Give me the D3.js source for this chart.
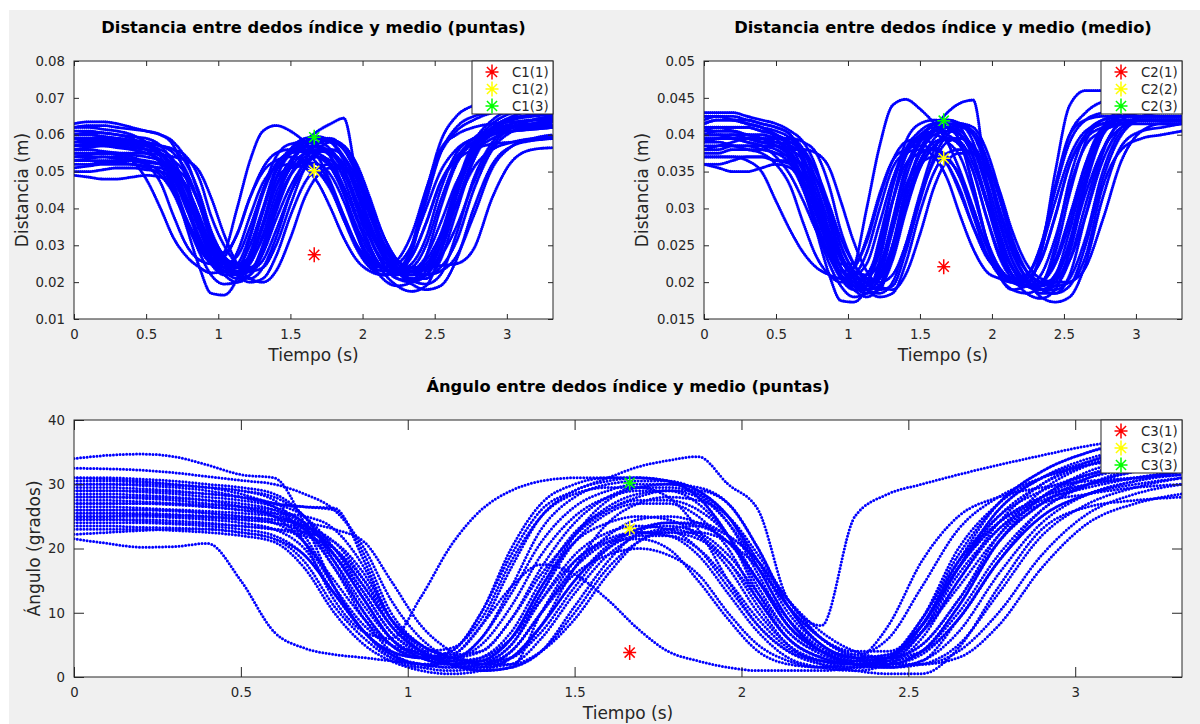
<!DOCTYPE html>
<html><head><meta charset="utf-8">
<script src="https://cdn.jsdelivr.net/npm/d3@7"></script>
<style>
html,body{margin:0;padding:0;background:#fff;}
svg{display:block;font-family:"DejaVu Sans",sans-serif;}
</style></head><body>
<svg id="chart" width="1200" height="724"></svg>
<script>
// ---- data ----
// sample times (s) at which every repetition below was read off the picture
const times = [0,0.1,0.2,0.3,0.4,0.5,0.6,0.69,0.78,0.87,0.95,1.04,1.13,1.22,1.31,1.4,1.5,1.6,1.69,1.78,1.87,1.96,2.05,2.14,2.24,2.34,2.44,2.54,2.65,2.77,2.9,3.04,3.18,3.32];
const xTicks = [0,0.5,1,1.5,2,2.5,3];
const yTicksTips = [0.01,0.02,0.03,0.04,0.05,0.06,0.07,0.08];
const yTicksMid = [0.015,0.02,0.025,0.03,0.035,0.04,0.045,0.05];
const yTicksAngle = [0,10,20,30,40];
const titles = ["Distancia entre dedos índice y medio (puntas)","Distancia entre dedos índice y medio (medio)","Ángulo entre dedos índice y medio (puntas)"];
const yLabels = ["Distancia (m)","Distancia (m)","Ángulo (grados)"];
const xLabel = "Tiempo (s)";

// distance between fingertips (m), one array per repetition
const distTips = [
[0.062,0.0625,0.0625,0.062,0.0615,0.061,0.06,0.057,0.048,0.035,0.027,0.024,0.025,0.033,0.045,0.054,0.0575,0.058,0.057,0.054,0.045,0.033,0.025,0.022,0.023,0.03,0.045,0.056,0.06,0.062,0.063,0.0635,0.064,0.064],
[0.049,0.0485,0.048,0.048,0.0485,0.049,0.0485,0.045,0.037,0.029,0.025,0.023,0.024,0.03,0.04,0.048,0.051,0.0515,0.05,0.046,0.038,0.03,0.025,0.023,0.0235,0.027,0.036,0.047,0.053,0.056,0.0575,0.058,0.0585,0.059],
[0.055,0.055,0.055,0.0545,0.053,0.048,0.04,0.032,0.027,0.024,0.0225,0.023,0.028,0.038,0.047,0.051,0.052,0.051,0.047,0.04,0.032,0.026,0.023,0.022,0.023,0.027,0.036,0.047,0.054,0.058,0.06,0.061,0.0615,0.062],
[0.057,0.057,0.057,0.0565,0.056,0.055,0.053,0.046,0.035,0.024,0.017,0.0165,0.021,0.032,0.044,0.052,0.055,0.056,0.055,0.052,0.044,0.034,0.026,0.021,0.019,0.02,0.027,0.04,0.052,0.058,0.061,0.062,0.0625,0.063],
[0.06,0.06,0.0595,0.059,0.0585,0.058,0.057,0.056,0.052,0.044,0.034,0.027,0.024,0.026,0.032,0.042,0.052,0.058,0.061,0.063,0.0645,0.048,0.033,0.025,0.021,0.0205,0.023,0.03,0.045,0.057,0.063,0.066,0.067,0.0675],
[0.056,0.056,0.0555,0.055,0.054,0.052,0.047,0.038,0.03,0.026,0.025,0.028,0.04,0.053,0.061,0.0625,0.061,0.058,0.054,0.047,0.038,0.03,0.025,0.024,0.026,0.033,0.045,0.055,0.061,0.064,0.066,0.067,0.068,0.0685],
[0.053,0.0535,0.054,0.054,0.0535,0.053,0.052,0.05,0.045,0.037,0.03,0.026,0.024,0.024,0.028,0.037,0.046,0.052,0.054,0.053,0.049,0.042,0.034,0.027,0.023,0.022,0.024,0.03,0.041,0.051,0.056,0.058,0.059,0.0595],
[0.058,0.0585,0.0585,0.058,0.0575,0.057,0.056,0.053,0.045,0.036,0.029,0.025,0.023,0.026,0.035,0.046,0.053,0.0565,0.057,0.055,0.05,0.041,0.032,0.026,0.023,0.024,0.03,0.042,0.053,0.059,0.0615,0.0625,0.063,0.0635],
[0.051,0.0515,0.052,0.052,0.052,0.0515,0.051,0.049,0.043,0.035,0.028,0.024,0.022,0.023,0.03,0.041,0.049,0.053,0.054,0.052,0.046,0.037,0.029,0.024,0.022,0.023,0.027,0.036,0.047,0.055,0.059,0.061,0.062,0.0625],
[0.063,0.0635,0.0635,0.063,0.062,0.061,0.06,0.058,0.053,0.043,0.033,0.027,0.025,0.027,0.036,0.048,0.056,0.059,0.0595,0.058,0.053,0.044,0.035,0.028,0.024,0.023,0.025,0.032,0.045,0.056,0.062,0.065,0.067,0.069],
[0.054,0.054,0.054,0.0535,0.053,0.052,0.05,0.045,0.037,0.03,0.026,0.025,0.027,0.035,0.045,0.052,0.055,0.0555,0.054,0.051,0.044,0.035,0.028,0.024,0.0225,0.023,0.026,0.033,0.046,0.056,0.061,0.063,0.064,0.0645],
[0.059,0.059,0.059,0.0585,0.058,0.0575,0.057,0.056,0.054,0.048,0.038,0.03,0.025,0.023,0.024,0.03,0.041,0.051,0.056,0.058,0.056,0.05,0.04,0.031,0.025,0.022,0.022,0.024,0.031,0.045,0.056,0.061,0.063,0.064],
[0.052,0.052,0.0525,0.0525,0.052,0.051,0.049,0.044,0.036,0.029,0.026,0.027,0.033,0.043,0.05,0.053,0.054,0.053,0.05,0.045,0.037,0.03,0.026,0.024,0.025,0.03,0.04,0.05,0.056,0.059,0.0605,0.061,0.0615,0.062],
[0.061,0.061,0.0605,0.06,0.0595,0.059,0.057,0.052,0.042,0.032,0.026,0.023,0.0225,0.025,0.033,0.044,0.052,0.057,0.059,0.059,0.056,0.049,0.039,0.03,0.024,0.021,0.021,0.026,0.039,0.053,0.061,0.065,0.067,0.068],
[0.056,0.0565,0.057,0.057,0.0565,0.056,0.055,0.053,0.049,0.041,0.033,0.027,0.024,0.0235,0.026,0.034,0.044,0.051,0.055,0.056,0.054,0.048,0.039,0.031,0.026,0.023,0.022,0.023,0.027,0.038,0.051,0.057,0.059,0.06],
[0.053,0.053,0.053,0.053,0.053,0.0525,0.052,0.051,0.048,0.041,0.032,0.026,0.022,0.02,0.021,0.027,0.038,0.047,0.051,0.052,0.051,0.046,0.038,0.029,0.023,0.0195,0.018,0.019,0.026,0.04,0.052,0.057,0.0585,0.0595],
[0.057,0.0575,0.0575,0.057,0.056,0.055,0.053,0.048,0.04,0.032,0.026,0.022,0.02,0.022,0.03,0.042,0.051,0.055,0.056,0.055,0.05,0.04,0.03,0.023,0.019,0.0175,0.019,0.028,0.043,0.055,0.06,0.062,0.063,0.064],
[0.06,0.0605,0.0605,0.06,0.059,0.057,0.054,0.047,0.037,0.028,0.022,0.0195,0.02,0.027,0.04,0.051,0.056,0.058,0.058,0.056,0.051,0.042,0.032,0.025,0.021,0.02,0.022,0.03,0.044,0.056,0.062,0.0645,0.0655,0.066],
[0.055,0.055,0.055,0.055,0.055,0.055,0.0545,0.054,0.053,0.05,0.043,0.033,0.025,0.021,0.02,0.023,0.032,0.043,0.049,0.051,0.051,0.048,0.042,0.033,0.026,0.024,0.024,0.0245,0.025,0.029,0.043,0.053,0.056,0.0565],
[0.058,0.058,0.058,0.0575,0.057,0.056,0.055,0.051,0.043,0.034,0.027,0.023,0.021,0.022,0.028,0.039,0.049,0.055,0.058,0.0585,0.057,0.052,0.043,0.033,0.026,0.023,0.0235,0.027,0.035,0.047,0.057,0.062,0.064,0.065],
[0.05,0.05,0.0505,0.051,0.051,0.0505,0.05,0.048,0.043,0.036,0.029,0.025,0.024,0.027,0.036,0.046,0.051,0.0525,0.052,0.049,0.042,0.033,0.027,0.024,0.023,0.025,0.032,0.045,0.055,0.059,0.061,0.062,0.062,0.0625],
[0.062,0.062,0.0615,0.061,0.06,0.058,0.055,0.049,0.04,0.031,0.025,0.022,0.022,0.026,0.036,0.048,0.055,0.058,0.059,0.058,0.054,0.046,0.036,0.028,0.023,0.022,0.024,0.032,0.046,0.058,0.064,0.067,0.069,0.07],
[0.054,0.0545,0.055,0.055,0.0545,0.054,0.053,0.051,0.046,0.038,0.03,0.025,0.0225,0.023,0.029,0.04,0.049,0.054,0.0555,0.055,0.052,0.045,0.036,0.028,0.023,0.021,0.022,0.028,0.041,0.054,0.061,0.064,0.065,0.0655],
[0.059,0.059,0.059,0.059,0.0585,0.058,0.057,0.055,0.05,0.041,0.031,0.025,0.022,0.021,0.024,0.032,0.044,0.053,0.0575,0.0585,0.057,0.051,0.041,0.031,0.024,0.0205,0.0195,0.022,0.033,0.048,0.058,0.062,0.064,0.065],
[0.057,0.0575,0.058,0.058,0.0575,0.057,0.055,0.05,0.041,0.032,0.026,0.023,0.023,0.028,0.039,0.05,0.055,0.057,0.0565,0.054,0.048,0.038,0.029,0.024,0.022,0.028,0.044,0.058,0.065,0.068,0.07,0.071,0.072,0.0725],
[0.06,0.06,0.0595,0.059,0.058,0.056,0.052,0.045,0.037,0.031,0.028,0.028,0.033,0.043,0.051,0.055,0.056,0.055,0.052,0.046,0.037,0.029,0.024,0.022,0.023,0.029,0.042,0.055,0.062,0.065,0.066,0.0665,0.067,0.0675]
];

// distance between middle phalanges (m)
const distMid = [
[0.042,0.0425,0.0425,0.042,0.0415,0.041,0.04,0.037,0.031,0.025,0.021,0.0195,0.02,0.025,0.033,0.039,0.0415,0.042,0.0415,0.039,0.033,0.026,0.021,0.019,0.0195,0.024,0.033,0.04,0.042,0.0425,0.0425,0.0425,0.0425,0.0425],
[0.036,0.0355,0.035,0.035,0.0355,0.036,0.0355,0.033,0.028,0.0235,0.021,0.02,0.021,0.025,0.031,0.036,0.0375,0.038,0.037,0.034,0.029,0.024,0.021,0.02,0.0205,0.023,0.029,0.036,0.0395,0.041,0.0415,0.042,0.042,0.042],
[0.037,0.037,0.037,0.0365,0.035,0.031,0.027,0.024,0.022,0.021,0.0205,0.021,0.024,0.03,0.0355,0.0375,0.038,0.037,0.034,0.029,0.0245,0.0215,0.0205,0.02,0.0205,0.023,0.029,0.036,0.04,0.0415,0.042,0.042,0.042,0.042],
[0.04,0.04,0.04,0.0395,0.039,0.0385,0.037,0.033,0.027,0.021,0.0175,0.0173,0.0195,0.026,0.033,0.038,0.0405,0.0415,0.041,0.039,0.033,0.026,0.021,0.019,0.0185,0.0195,0.025,0.034,0.04,0.042,0.0425,0.0425,0.0425,0.0425],
[0.041,0.041,0.0405,0.04,0.04,0.0395,0.039,0.038,0.035,0.03,0.025,0.0215,0.02,0.021,0.025,0.032,0.038,0.041,0.043,0.0443,0.0447,0.034,0.025,0.021,0.0195,0.019,0.02,0.024,0.033,0.04,0.043,0.0445,0.045,0.045],
[0.039,0.039,0.0385,0.038,0.0375,0.036,0.033,0.028,0.0235,0.021,0.02,0.022,0.03,0.0385,0.044,0.0448,0.0435,0.0415,0.039,0.035,0.03,0.025,0.022,0.0205,0.021,0.025,0.033,0.04,0.043,0.0445,0.045,0.0455,0.0455,0.0455],
[0.038,0.0385,0.039,0.0395,0.0395,0.0395,0.0395,0.038,0.033,0.027,0.023,0.021,0.02,0.0205,0.024,0.03,0.0355,0.0385,0.0395,0.039,0.036,0.031,0.026,0.022,0.02,0.0195,0.021,0.025,0.032,0.038,0.041,0.042,0.042,0.042],
[0.0415,0.042,0.042,0.0415,0.041,0.0405,0.0395,0.037,0.032,0.0265,0.022,0.02,0.0195,0.0215,0.028,0.035,0.0395,0.0415,0.042,0.041,0.037,0.031,0.025,0.021,0.0195,0.02,0.024,0.032,0.039,0.042,0.0425,0.0425,0.0425,0.0425],
[0.0375,0.0375,0.038,0.038,0.038,0.0375,0.037,0.0355,0.031,0.026,0.022,0.0195,0.0185,0.019,0.024,0.031,0.0365,0.039,0.0395,0.0385,0.035,0.029,0.0235,0.0205,0.0195,0.02,0.023,0.029,0.036,0.0405,0.042,0.042,0.042,0.042],
[0.043,0.043,0.043,0.0425,0.042,0.0415,0.0405,0.039,0.0355,0.029,0.0235,0.0205,0.0195,0.021,0.027,0.034,0.039,0.0415,0.042,0.0415,0.039,0.033,0.0265,0.022,0.02,0.0195,0.021,0.027,0.035,0.041,0.0435,0.0445,0.0455,0.046],
[0.0395,0.0395,0.0395,0.039,0.0385,0.038,0.0365,0.033,0.028,0.024,0.0215,0.021,0.0225,0.028,0.034,0.038,0.0395,0.04,0.039,0.037,0.032,0.026,0.022,0.02,0.0195,0.02,0.0225,0.028,0.036,0.041,0.042,0.042,0.042,0.042],
[0.0405,0.0405,0.0405,0.04,0.04,0.0395,0.0395,0.039,0.0375,0.033,0.027,0.0225,0.02,0.019,0.0195,0.024,0.031,0.037,0.04,0.041,0.04,0.0365,0.03,0.024,0.0205,0.019,0.019,0.0205,0.026,0.035,0.0405,0.042,0.042,0.042],
[0.038,0.038,0.0385,0.0385,0.038,0.0375,0.036,0.0325,0.0275,0.0235,0.0215,0.022,0.026,0.032,0.0365,0.038,0.0385,0.038,0.036,0.0325,0.0275,0.0235,0.0215,0.0205,0.021,0.0245,0.031,0.037,0.0405,0.0415,0.0415,0.0415,0.0415,0.0415],
[0.0425,0.0425,0.042,0.042,0.0415,0.041,0.04,0.036,0.03,0.0245,0.021,0.0195,0.019,0.0205,0.025,0.032,0.0375,0.0405,0.0415,0.0415,0.04,0.0355,0.029,0.023,0.02,0.0185,0.0185,0.021,0.029,0.0375,0.042,0.043,0.043,0.043],
[0.039,0.0395,0.0395,0.0395,0.039,0.039,0.0385,0.0375,0.035,0.0305,0.026,0.0225,0.0205,0.02,0.021,0.025,0.0315,0.0365,0.039,0.0395,0.0385,0.0355,0.03,0.025,0.0215,0.02,0.0195,0.02,0.022,0.0285,0.0365,0.0405,0.0415,0.0415],
[0.037,0.037,0.037,0.037,0.037,0.0365,0.0365,0.036,0.034,0.03,0.025,0.0215,0.019,0.018,0.0185,0.0225,0.0295,0.035,0.0375,0.038,0.0375,0.035,0.03,0.0245,0.0205,0.018,0.0173,0.018,0.0225,0.0315,0.0385,0.0405,0.041,0.0415],
[0.04,0.0405,0.0405,0.04,0.0395,0.0385,0.037,0.034,0.029,0.0245,0.021,0.019,0.018,0.0195,0.025,0.0325,0.0375,0.04,0.0405,0.04,0.037,0.031,0.0255,0.021,0.0185,0.0178,0.019,0.0245,0.0335,0.04,0.042,0.042,0.042,0.042],
[0.0415,0.042,0.042,0.0415,0.041,0.04,0.038,0.0335,0.0275,0.0225,0.0195,0.018,0.0185,0.023,0.031,0.0375,0.04,0.041,0.041,0.04,0.037,0.0315,0.026,0.022,0.02,0.0195,0.0205,0.0255,0.034,0.0405,0.0425,0.043,0.043,0.043],
[0.0385,0.0385,0.0385,0.0385,0.0385,0.0385,0.038,0.038,0.0375,0.0355,0.031,0.0255,0.0215,0.0195,0.019,0.021,0.0265,0.033,0.0365,0.0375,0.0375,0.036,0.0325,0.027,0.0225,0.0205,0.02,0.02,0.0235,0.033,0.038,0.0395,0.04,0.0405],
[0.04,0.04,0.04,0.0395,0.039,0.0385,0.0375,0.035,0.0305,0.0255,0.022,0.02,0.019,0.0195,0.0235,0.03,0.036,0.0395,0.041,0.0412,0.0405,0.037,0.0315,0.0255,0.0215,0.02,0.0205,0.023,0.029,0.0365,0.041,0.0425,0.043,0.043],
[0.036,0.036,0.0365,0.037,0.037,0.0365,0.036,0.0345,0.031,0.027,0.0235,0.0215,0.021,0.0225,0.0275,0.033,0.036,0.037,0.0365,0.0345,0.03,0.025,0.0215,0.02,0.0195,0.021,0.026,0.033,0.0385,0.0405,0.0415,0.042,0.042,0.042],
[0.0425,0.0425,0.042,0.0415,0.041,0.0395,0.037,0.033,0.028,0.0235,0.0205,0.019,0.019,0.022,0.0285,0.0355,0.039,0.0405,0.041,0.0405,0.038,0.033,0.027,0.022,0.0195,0.019,0.0205,0.0255,0.034,0.0405,0.043,0.044,0.0445,0.045],
[0.039,0.0395,0.04,0.04,0.0395,0.039,0.038,0.0365,0.033,0.028,0.0235,0.0205,0.019,0.0195,0.023,0.0295,0.0355,0.0385,0.0395,0.0395,0.038,0.034,0.028,0.023,0.02,0.019,0.0195,0.023,0.0305,0.038,0.0415,0.042,0.042,0.042],
[0.041,0.041,0.041,0.041,0.0405,0.04,0.039,0.0375,0.034,0.029,0.024,0.0205,0.019,0.0185,0.02,0.025,0.032,0.038,0.0405,0.0415,0.041,0.038,0.0325,0.026,0.0215,0.019,0.0185,0.0195,0.025,0.034,0.04,0.042,0.042,0.042],
[0.0405,0.041,0.041,0.041,0.0405,0.04,0.0385,0.035,0.0295,0.025,0.022,0.0205,0.0205,0.024,0.031,0.037,0.0395,0.0405,0.04,0.0385,0.035,0.029,0.024,0.021,0.02,0.024,0.035,0.044,0.046,0.046,0.0455,0.0455,0.0455,0.0455],
[0.04,0.04,0.0395,0.039,0.0385,0.037,0.0345,0.031,0.027,0.024,0.0225,0.0225,0.0255,0.0315,0.0365,0.039,0.0395,0.0385,0.036,0.032,0.0275,0.024,0.0215,0.0205,0.021,0.025,0.0325,0.039,0.042,0.043,0.0435,0.0435,0.0435,0.0435]
];

// angle between fingertips (degrees)
const angleTips = [
[34,34.5,34.7,34.3,33,31.5,31,24,14,7,4,3,4,10,20,27,30,31,31,30.5,28,22,14,7,4,3.5,6,14,23,28,31,33,34,34.5],
[32.5,32.4,32.2,31.8,31.2,30.6,30,28.5,26,20,12,6,3,2.5,5,13,22,27.5,29.5,30,29.5,27,20,11,5,3,2.5,4,11,21,27,30,32,33],
[21.5,20.8,20.2,20.3,20.8,15,7,4.5,3.5,3,2.5,2,2,3,6,12,18,21,21.5,20,15,9,4,2,1.5,2.5,8,18,25,28,29.5,30.5,31,31.5],
[22.2,22.5,22.8,23,23,22.5,21.5,18,11,6,3,2,1.5,2,4,10,17,21,22.5,22,19,13,7,3,1.5,1,2,7,16,23,27,28.5,29.5,30],
[31,30.8,30.5,30,29.5,28.5,27,26.5,26,19,10,5,3,2.5,3,8,17,24,27,28,27.5,25,19,12,6,3.5,3,5,12,21,27,31,33,34],
[30,30,29.8,29.5,29,28,26.5,22,14,7,4,3,3.5,8,17,25,29,30.5,31,30.5,28,22,13,6,3,2,2.5,7,17,26,31,34,35.5,36.5],
[28.5,28.5,28.3,28,27.5,26.5,25,21,14,8,5,4,4.5,9,18,25,28.5,29.5,29.5,28,23,15,8,4,2.5,2,3,9,19,27,32,35,36.5,37.5],
[27.5,27.5,27.3,27,26.5,26,25,23,18,11,6,3.5,2.5,3,6,13,21,25.5,27,27,25,20,12,6,3,2,2,4,10,19,26,30,32.5,34],
[26.5,26.5,26.3,26,25.5,25,24,21,15,9,5,3,2,2.5,6,14,21,24,25,24.5,22,17,10,5,2.5,1.5,2,6,15,23,28,31,32.5,33.5],
[26,26,26,25.8,25.5,25,24.5,23.5,21,15,8,4,2,1,1.5,4,11,18,22.5,24,23.5,21,15,8,4,2,1.5,2,5,13,22,27,29.5,31],
[25,25,25,24.8,24.5,24,23,20,13,7,3.5,2,1.5,2,5,12,19,22.5,23.5,23,20,14,8,4,2,1.5,2.5,8,18,25,29,31.5,33,34],
[24.5,24.5,24.3,24,23.8,23.5,23,22.5,21,16,9,4.5,2,1,1.5,4,10,17,21,22.5,22.5,21,17,11,6,3,2,2,4,10,19,25.5,28.5,30],
[24,24,24,23.8,23.5,23,22,19,13,7,3.5,1.5,1,1.5,4,10,16,19,20,19,16,10,5,2.5,1.5,1.5,3,9,18,24,27.5,29.5,31,32],
[23.5,23.5,23.3,23.2,23,22.5,21.5,19,13,7,3,1.5,3,8,14,17.5,16,12,7.5,4,2.5,1.5,1,1,1,1.5,3,8,17,24,28,30,31,32],
[29,29,29,28.8,28.5,28,27,25,20,13,7,4,3,4,9,17,24,28,29.5,29.5,28.5,25,18,10,5,3,3,5,12,22,29,33,35,36],
[30.5,30.5,30.3,30,29.5,29,27.5,21,12,7,6,12.5,20.5,26,29,30.5,31,31,31,30.5,29,25,18,11,6,4,4,8,17,26,31,33.5,35.5,37],
[27,27,27,26.8,26.5,26,25.5,25,23,17,9,4,2,1,1.5,10,18,21.5,22.5,22.5,21.5,18,12,6,3,2,1.5,2.5,9,18,25,28.5,30.5,31.5],
[28,28,27.8,27.5,27,26.5,25.5,23,17,10,5,3,4,10,19,26,29,31,32.7,33.7,34.3,30,26,12,8,25,28.5,30,31.5,33,34.5,36,37,38],
[25.5,25.5,25.3,25,24.8,24.5,24,23,20,14,8,4,2,1.5,2,6,13,19,22,23,22,18,11,5,2,1,0.5,0.5,4.5,14,23,26.5,27.5,28],
[29.5,29.5,29.3,29,28.5,28,27,26.5,26.3,18,9,5,3.5,4,9,16,22,26,28,29,29,27,20,11,5,3,3.5,8,17,25,30,33,35,36],
[31,31,30.8,30.5,30,29.5,28.5,25,18,10,5,3,3,6,14,23,28,30,30.5,30.5,29,25,17,9,4,2.5,3,8,18,27,32,35,37,38.5],
[25.5,25.5,25.5,25.3,25,24.8,24.5,24,23,21,15,8,4,2,2,4,9,16,21,23,23.5,22,18,12,6,3,2,2,3,8,17,24,27,28.5],
[23,23,23,22.8,22.5,22,21,17,10,5,2.5,1,0.5,1,3,8,15,20,22,22,20,15,9,4.5,2.5,2,3,8,17,24,28,30,31,32],
[27,27,27,27,26.8,26.5,26,24,19,12,6,3,2,3,7,15,22.5,26,27.5,27.5,26,22,15,8,4,3,3.5,7,14,22,28,32,34,35.5],
[28,28,28,27.8,27.5,27,26,23.5,17,9,4,2,2.5,6,13,21,26.5,29,30,30,28.5,24,16,8,4,2.5,3,9,20,27,31,33,34.5,35.5],
[24.5,24.5,24.5,24.3,24,23.5,23,22,20,15,9,5,3,2,3,7,14,20,23,24,24,22,18,12,7,4,3,4,9,18,25,28.5,30,31],
[30,30,30,29.8,29.5,29,28,25,19,12,6,3.5,3,5,11,19,25,28,29,29,27,22,15,8,4,2.5,3,7,15,24,30,33.5,35.5,37],
[26,26,26,26,25.8,25.5,25,23.5,20,14,8,4,2.5,2,4,10,17,22,24.5,25,24,21,15,9,4.5,2.5,2,3.5,9,18,26,30,32,33],
[29,29,28.8,28.5,28,27.5,26.5,24,19,12,6,3,2,2.5,6,14,22,26.5,28.5,29,28,24,17,9,4,2,2,4,11,21,28,31.5,33.5,35],
[25,25,25.2,25.2,25,24.5,24,22.5,19,13,7,3.5,2,1.5,3,8,15,20.5,23,23.5,22.5,19,13,7,3.5,2,1.5,2.5,7,16,24,28.5,30.5,32]
];

const markerTime = 1.665;
const c1Markers = [0.0274, 0.0502, 0.0593];
const c2Markers = [0.0221, 0.0368, 0.0419];
const c3Markers = [3.8, 23.1, 30.2];
const markerColors = ["#ff0000", "#ffff00", "#00ff00"];
const c1Labels = ["C1(1)", "C1(2)", "C1(3)"];
const c2Labels = ["C2(1)", "C2(2)", "C2(3)"];
const c3Labels = ["C3(1)", "C3(2)", "C3(3)"];

// ---- drawing ----
const svg = d3.select("#chart");
svg.append("rect").attr("x", 9).attr("y", 10).attr("width", 1191).attr("height", 714).attr("fill", "#f0f0f0");
const defs = svg.append("defs");
const AX = "#262626";

const panels = [
  {id:"p1", left:74, right:553, top:61, bottom:319, yDomain:[0.01,0.08], yTicks:yTicksTips, data:distTips,
   markers:c1Markers, labels:c1Labels, title:titles[0], ylabel:yLabels[0], ylabelX:22, tick:5, dash:"0 2.1", sw:3.1},
  {id:"p2", left:704, right:1182, top:61, bottom:319, yDomain:[0.015,0.05], yTicks:yTicksMid, data:distMid,
   markers:c2Markers, labels:c2Labels, title:titles[1], ylabel:yLabels[1], ylabelX:642, tick:5, dash:"0 2.1", sw:3.1},
  {id:"p3", left:74, right:1182, top:420, bottom:677, yDomain:[0,40], yTicks:yTicksAngle, data:angleTips,
   markers:c3Markers, labels:c3Labels, title:titles[2], ylabel:yLabels[2], ylabelX:34, tick:10, dash:"0 3.3", sw:3}
];

function starPath(cx, cy, r, rv) {
  const p = d3.path();
  p.moveTo(cx - r, cy); p.lineTo(cx + r, cy);
  p.moveTo(cx, cy - rv); p.lineTo(cx, cy + rv);
  const d = r * 0.78;
  p.moveTo(cx - d, cy - d); p.lineTo(cx + d, cy + d);
  p.moveTo(cx - d, cy + d); p.lineTo(cx + d, cy - d);
  return p.toString();
}

panels.forEach(P => {
  const x = d3.scaleLinear().domain([0, 3.32]).range([P.left, P.right]);
  const y = d3.scaleLinear().domain(P.yDomain).range([P.bottom, P.top]);
  const g = svg.append("g");
  g.append("rect").attr("x", P.left).attr("y", P.top).attr("width", P.right - P.left).attr("height", P.bottom - P.top).attr("fill", "#fff");

  defs.append("clipPath").attr("id", "clip-" + P.id).append("rect")
    .attr("x", P.left).attr("y", P.top).attr("width", P.right - P.left).attr("height", P.bottom - P.top);

  const line = d3.line().x((d, i) => x(times[i])).y(d => y(d)).curve(d3.curveMonotoneX);
  const cg = g.append("g").attr("clip-path", `url(#clip-${P.id})`);
  cg.selectAll("path.curve").data(P.data).join("path").attr("class", "curve")
    .attr("d", line).attr("fill", "none").attr("stroke", "#0000ff")
    .attr("stroke-width", P.sw).attr("stroke-linecap", "round").attr("stroke-dasharray", P.dash);

  // axes with inward ticks on all four sides
  const fmt = d => String(d);
  const bottom = g.append("g").attr("transform", `translate(0,${P.bottom})`)
    .call(d3.axisBottom(x).tickValues(xTicks).tickFormat(fmt).tickSize(-P.tick).tickPadding(11));
  const topAx = g.append("g").attr("transform", `translate(0,${P.top})`)
    .call(d3.axisTop(x).tickValues(xTicks).tickFormat("").tickSize(-P.tick));
  const leftAx = g.append("g").attr("transform", `translate(${P.left},0)`)
    .call(d3.axisLeft(y).tickValues(P.yTicks).tickFormat(fmt).tickSize(-P.tick).tickPadding(9));
  const rightAx = g.append("g").attr("transform", `translate(${P.right},0)`)
    .call(d3.axisRight(y).tickValues(P.yTicks).tickFormat("").tickSize(-P.tick));
  [bottom, topAx, leftAx, rightAx].forEach(a => {
    a.select(".domain").remove();
    a.selectAll(".tick line").attr("stroke", AX).attr("stroke-width", 1);
    a.selectAll("text").attr("fill", AX).style("font-size", "13.3px").style("font-family", "DejaVu Sans, sans-serif");
  });
  g.append("rect").attr("x", P.left).attr("y", P.top).attr("width", P.right - P.left).attr("height", P.bottom - P.top)
    .attr("fill", "none").attr("stroke", AX).attr("stroke-width", 1);

  // cluster markers
  P.markers.forEach((v, i) => {
    g.append("path").attr("d", starPath(x(markerTime), y(v), 6.5, 7.5))
      .attr("stroke", markerColors[i]).attr("stroke-width", 1.5).attr("fill", "none");
  });

  // legend
  const lw = 81, lh = 53, lx = P.right - lw, ly = P.top;
  const lg = g.append("g");
  lg.append("rect").attr("x", lx).attr("y", ly).attr("width", lw).attr("height", lh)
    .attr("fill", "#fff").attr("stroke", AX).attr("stroke-width", 1);
  P.labels.forEach((lab, i) => {
    const cy = ly + 11 + i * 17;
    lg.append("path").attr("d", starPath(lx + 20, cy, 6.5, 7.5)).attr("stroke", markerColors[i]).attr("stroke-width", 1.5).attr("fill", "none");
    lg.append("text").attr("x", lx + 40).attr("y", cy).attr("dy", "0.36em").attr("fill", AX)
      .style("font-size", "13.3px").text(lab);
  });

  // titles and axis labels
  const cx = (P.left + P.right) / 2;
  g.append("text").attr("x", cx).attr("y", P.top - 28).attr("text-anchor", "middle")
    .style("font-weight", "bold").style("font-size", "16.3px").attr("fill", "#000").text(P.title);
  g.append("text").attr("x", cx).attr("y", P.bottom + 42).attr("text-anchor", "middle")
    .style("font-size", "17px").attr("fill", AX).text(xLabel);
  g.append("text").attr("transform", `translate(${P.ylabelX},${(P.top + P.bottom) / 2}) rotate(-90)`)
    .attr("text-anchor", "middle").attr("dy", "0.35em").style("font-size", "17px").attr("fill", AX).text(P.ylabel);
});
</script>
</body></html>
